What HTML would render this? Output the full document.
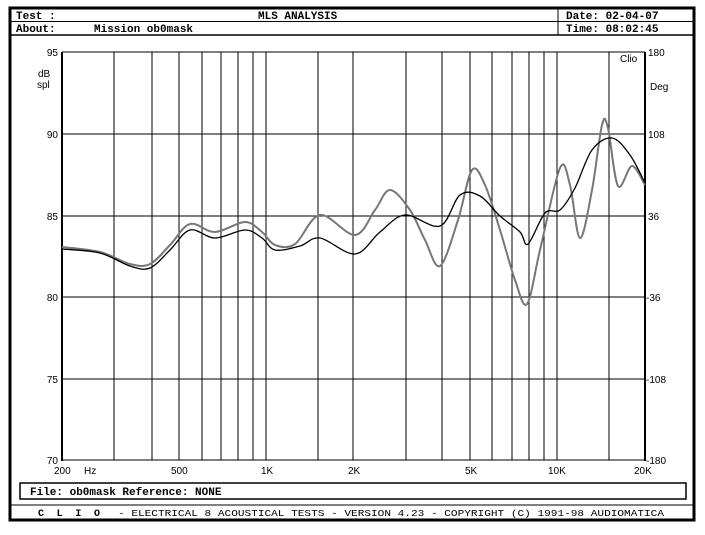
<!DOCTYPE html>
<html><head><meta charset="utf-8"><style>
body{margin:0;background:#fff;width:705px;height:530px;overflow:hidden}
svg text{font-family:"Liberation Mono",monospace}
</style></head><body>
<svg width="705" height="530" viewBox="0 0 705 530" xmlns="http://www.w3.org/2000/svg">
<rect x="10" y="8" width="684" height="512" fill="#fff" stroke="#000" stroke-width="3"/>
<line x1="10" y1="21.5" x2="694" y2="21.5" stroke="#000"/>
<line x1="10" y1="35" x2="694" y2="35" stroke="#000" stroke-width="1.5"/>
<line x1="558" y1="8" x2="558" y2="35" stroke="#000"/>
<g font-size="11" font-weight="bold" fill="#000">
<text x="16" y="19">Test :</text>
<text x="258" y="19">MLS ANALYSIS</text>
<text x="566" y="19">Date: 02-04-07</text>
<text x="16" y="32">About:</text>
<text x="94" y="32">Mission ob0mask</text>
<text x="566" y="32">Time: 08:02:45</text>
</g>
<g stroke="#000" stroke-width="1">
<line x1="114" y1="52" x2="114" y2="460"/><line x1="152" y1="52" x2="152" y2="460"/>
<line x1="179" y1="52" x2="179" y2="460"/><line x1="202" y1="52" x2="202" y2="460"/>
<line x1="221" y1="52" x2="221" y2="460"/><line x1="238" y1="52" x2="238" y2="460"/>
<line x1="253" y1="52" x2="253" y2="460"/><line x1="266" y1="52" x2="266" y2="460"/>
<line x1="318" y1="52" x2="318" y2="460"/><line x1="353" y1="52" x2="353" y2="460"/>
<line x1="406" y1="52" x2="406" y2="460"/><line x1="442" y1="52" x2="442" y2="460"/>
<line x1="470" y1="52" x2="470" y2="460"/><line x1="492" y1="52" x2="492" y2="460"/>
<line x1="512" y1="52" x2="512" y2="460"/><line x1="529" y1="52" x2="529" y2="460"/>
<line x1="544" y1="52" x2="544" y2="460"/><line x1="557" y1="52" x2="557" y2="460"/>
<line x1="609" y1="52" x2="609" y2="460"/>
<line x1="62" y1="52" x2="645" y2="52"/>
<line x1="62" y1="134" x2="645" y2="134"/><line x1="62" y1="216" x2="645" y2="216"/>
<line x1="62" y1="297" x2="645" y2="297"/><line x1="62" y1="379" x2="645" y2="379"/>
<line x1="62" y1="460" x2="645" y2="460"/>
</g>
<line x1="62" y1="52" x2="62" y2="461" stroke="#000" stroke-width="2"/>
<line x1="645" y1="52" x2="645" y2="461" stroke="#000" stroke-width="2"/>
<g font-size="10" fill="#000">
<text x="58" y="56" text-anchor="end" style="font-family:Liberation Sans">95</text>
<text x="58" y="138" text-anchor="end" style="font-family:Liberation Sans">90</text>
<text x="58" y="220" text-anchor="end" style="font-family:Liberation Sans">85</text>
<text x="58" y="301" text-anchor="end" style="font-family:Liberation Sans">80</text>
<text x="58" y="383" text-anchor="end" style="font-family:Liberation Sans">75</text>
<text x="58" y="464" text-anchor="end" style="font-family:Liberation Sans">70</text>
<text x="38" y="77" style="font-family:Liberation Sans">dB</text>
<text x="37" y="88" style="font-family:Liberation Sans">spl</text>
<text x="648" y="56" style="font-family:Liberation Sans">180</text>
<text x="650" y="90" style="font-family:Liberation Sans">Deg</text>
<text x="620" y="62" style="font-family:Liberation Sans">Clio</text>
<text x="648" y="138" style="font-family:Liberation Sans">108</text>
<text x="648" y="220" style="font-family:Liberation Sans">36</text>
<text x="646" y="301" style="font-family:Liberation Sans">-36</text>
<text x="646" y="383" style="font-family:Liberation Sans">-108</text>
<text x="646" y="464" style="font-family:Liberation Sans">-180</text>
<text x="54" y="474" style="font-family:Liberation Sans">200</text>
<text x="84" y="474" style="font-family:Liberation Sans">Hz</text>
<text x="171" y="474" style="font-family:Liberation Sans">500</text>
<text x="261" y="474" style="font-family:Liberation Sans">1K</text>
<text x="348" y="474" style="font-family:Liberation Sans">2K</text>
<text x="465" y="474" style="font-family:Liberation Sans">5K</text>
<text x="548" y="474" style="font-family:Liberation Sans">10K</text>
<text x="634" y="474" style="font-family:Liberation Sans">20K</text>
</g>
<path id="ga" fill="none" stroke="#777" stroke-width="2" stroke-linejoin="round" d="M62,247 L100,252 130,264 150,264 170,245 190,224 215,232 245,222 262,232 275,245 295,244 320,215 355,235 375,210 390,190 410,210 425,240 440,266 458,220 472,170 485,185 500,230 515,280 527,304 540,250 560,168 570,185 580,238 592,190 602,125 608,128 618,186 632,166 645,185"/>
<path id="gb" fill="none" stroke="#000" stroke-width="1.3" stroke-linejoin="round" d="M62,249 L100,253 130,266 150,268 170,250 190,230 215,238 245,230 262,238 275,250 300,246 320,238 355,254 380,232 405,215 440,226 460,195 480,196 500,216 520,232 528,244 545,213 560,210 575,188 592,150 612,138 630,155 645,183"/>
<rect x="20" y="483" width="666" height="16" fill="none" stroke="#000" stroke-width="1.5"/>
<text x="30" y="495" font-size="11" font-weight="bold">File: ob0mask  Reference: NONE</text>
<line x1="10" y1="505" x2="694" y2="505" stroke="#000"/>
<text x="38" y="516" font-size="10" font-weight="bold" textLength="62" lengthAdjust="spacing">C L I O</text>
<text x="118" y="516" font-size="9.5" textLength="546" lengthAdjust="spacingAndGlyphs">-  ELECTRICAL 8 ACOUSTICAL TESTS  -  VERSION 4.23  -  COPYRIGHT (C) 1991-98 AUDIOMATICA</text>
</svg>
<script>
['ga','gb'].forEach(function(id){
  var el=document.getElementById(id);
  var nums=el.getAttribute('d').replace(/[ML]/g,' ').trim().split(/[\s,]+/).map(Number);
  var p=[];for(var i=0;i<nums.length;i+=2)p.push([nums[i],nums[i+1]]);
  var d='M'+p[0][0]+','+p[0][1];
  for(var i=0;i<p.length-1;i++){
    var p0=p[i-1]||p[i],p1=p[i],p2=p[i+1],p3=p[i+2]||p2;
    var c1x=p1[0]+(p2[0]-p0[0])/6,c1y=p1[1]+(p2[1]-p0[1])/6;
    var c2x=p2[0]-(p3[0]-p1[0])/6,c2y=p2[1]-(p3[1]-p1[1])/6;
    d+=' C'+c1x.toFixed(1)+','+c1y.toFixed(1)+' '+c2x.toFixed(1)+','+c2y.toFixed(1)+' '+p2[0]+','+p2[1];
  }
  el.setAttribute('d',d);
});
</script>
</body></html>
